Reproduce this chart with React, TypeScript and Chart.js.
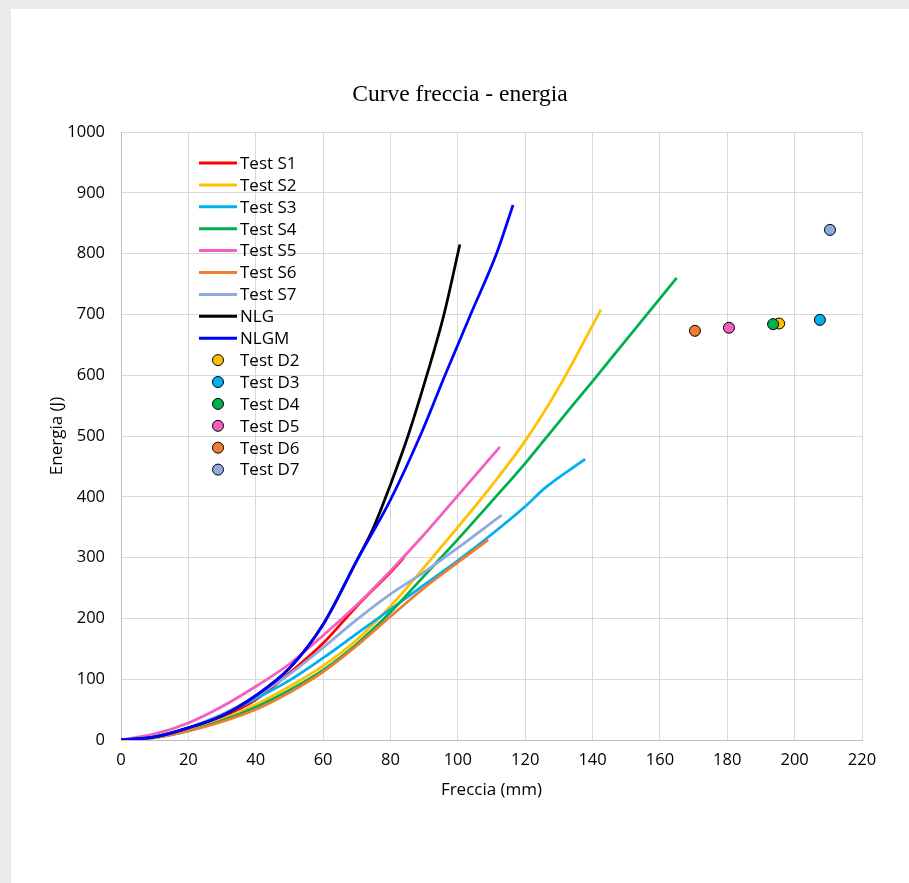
import React, { useEffect, useRef } from 'react';
import { Chart, registerables } from 'chart.js';

Chart.register(...registerables);

// ---- data ----
const s1X = [0, 10, 20, 30, 40, 50, 60, 70, 80, 84];
const s1Y = [0, 5, 18, 38, 66, 110, 159, 220, 276, 300];

const s2X = [0, 10, 20, 30, 40, 50, 60, 70, 80, 90, 100, 110, 120, 130, 142.5];
const s2Y = [0, 4, 16, 34, 58, 88, 122, 165, 220, 284, 350, 418, 492, 580, 708];

const s3X = [0, 10, 20, 30, 40, 50, 60, 70, 80, 90, 100, 110, 120, 126, 137.8];
const s3Y = [0, 5, 20, 42, 68, 98, 135, 175, 215, 255, 295, 338, 384, 415, 462];

const s4X = [0, 10, 20, 30, 40, 50, 60, 70, 80, 90, 100, 110, 120, 130, 140, 150, 165];
const s4Y = [0, 4, 15, 32, 54, 82, 115, 158, 210, 270, 330, 392, 455, 523, 590, 658, 760];

const s5X = [0, 10, 20, 30, 40, 50, 60, 70, 80, 90, 100, 112.5];
const s5Y = [0, 10, 28, 55, 88, 125, 172, 222, 278, 338, 402, 482];

const s6X = [0, 10, 20, 30, 40, 50, 60, 70, 80, 90, 100, 109];
const s6Y = [0, 4, 15, 30, 50, 78, 112, 155, 203, 250, 292, 329];

const s7X = [0, 10, 20, 30, 40, 50, 60, 70, 80, 90, 100, 113];
const s7Y = [0, 6, 20, 42, 72, 108, 152, 198, 240, 276, 316, 370];

const nlgX = [0, 10, 20, 30, 40, 50, 60, 70, 75, 80, 85.2, 90.8, 95.9, 100.6];
const nlgY = [0, 5, 20, 40, 73, 118, 190, 295, 350, 420, 500, 600, 700, 815];

const nlgmX = [0, 10, 20, 30, 40, 50, 60, 70, 80, 88.8, 96.2, 103.8, 111.5, 116.4];
const nlgmY = [0, 5, 20, 40, 73, 118, 190, 295, 395, 500, 600, 700, 800, 880];

const dLabels = ['Test D2', 'Test D3', 'Test D4', 'Test D5', 'Test D6', 'Test D7'];
const dX = [195.4, 207.5, 193.6, 180.5, 170.4, 210.5];
const dY = [685, 691, 684, 678, 673, 839];
const dColors = ['#FFC000', '#00B0F0', '#00B050', '#F55DBE', '#ED7D31', '#8FAADC'];

const lineLabels = ['Test S1', 'Test S2', 'Test S3', 'Test S4', 'Test S5', 'Test S6', 'Test S7', 'NLG', 'NLGM'];
const lineXs = [s1X, s2X, s3X, s4X, s5X, s6X, s7X, nlgX, nlgmX];
const lineYs = [s1Y, s2Y, s3Y, s4Y, s5Y, s6Y, s7Y, nlgY, nlgmY];
const lineColors = ['#FF0000', '#FFC000', '#00B0F0', '#00B050', '#F55DBE', '#ED7D31', '#8FAADC', '#000000', '#0000FF'];

const xTickStep = 20;
const yTickStep = 100;

const FONT = '"Open Sans", "Noto Sans", sans-serif';

const legendPlugin = {
  id: 'insideLegend',
  afterDatasetsDraw(chart: any) {
    const { ctx, chartArea } = chart;
    const ds = chart.data.datasets;
    ctx.save();
    ctx.font = `17px ${FONT}`;
    ctx.textBaseline = 'middle';
    ctx.textAlign = 'left';
    const x0 = chartArea.left + 78;
    const x1 = chartArea.left + 116;
    const tx = chartArea.left + 119;
    ds.forEach((d: any, i: number) => {
      const y = chartArea.top + 31 + i * 21.9;
      if (d.showLine) {
        ctx.strokeStyle = d.borderColor;
        ctx.lineWidth = 3;
        ctx.beginPath();
        ctx.moveTo(x0, y);
        ctx.lineTo(x1, y);
        ctx.stroke();
      } else {
        ctx.fillStyle = d.backgroundColor;
        ctx.strokeStyle = '#000';
        ctx.lineWidth = 1;
        ctx.beginPath();
        ctx.arc((x0 + x1) / 2, y, 5.5, 0, Math.PI * 2);
        ctx.fill();
        ctx.stroke();
      }
      ctx.fillStyle = '#000';
      ctx.fillText(d.label, tx, y + 1);
    });
    ctx.restore();
  },
};

export default function App() {
  const ref = useRef<HTMLCanvasElement>(null);

  useEffect(() => {
    const total = lineLabels.length + dLabels.length;
    const datasets: any[] = [];
    lineLabels.forEach((label, i) => {
      datasets.push({
        label,
        data: lineXs[i].map((x, k) => ({ x, y: lineYs[i][k] })),
        showLine: true,
        borderColor: lineColors[i],
        backgroundColor: lineColors[i],
        borderWidth: 2.75,
        pointRadius: 0,
        cubicInterpolationMode: 'monotone',
        fill: false,
        order: total - datasets.length,
      });
    });
    dLabels.forEach((label, i) => {
      datasets.push({
        label,
        data: [{ x: dX[i], y: dY[i] }],
        showLine: false,
        backgroundColor: dColors[i],
        borderColor: '#000',
        pointBackgroundColor: dColors[i],
        pointBorderColor: '#000',
        pointBorderWidth: 1,
        pointRadius: 5.5,
        order: total - datasets.length,
      });
    });

    const tickFont = { family: FONT, size: 16.5 };
    const titleFont = { family: FONT, size: 17 };
    const chart = new Chart(ref.current!, {
      type: 'scatter',
      data: { datasets },
      options: {
        animation: false,
        responsive: false,
        events: [],
        layout: { padding: 0 },
        plugins: {
          legend: { display: false },
          tooltip: { enabled: false },
          title: {
            display: true,
            text: 'Curve freccia - energia',
            color: '#000',
            font: { family: '"Liberation Serif", "Times New Roman", serif', size: 23.5, weight: 'normal' },
            padding: { top: 72, bottom: 22.8 },
          },
        },
        scales: {
          x: {
            type: 'linear',
            min: 0,
            max: 220,
            ticks: { stepSize: xTickStep, color: '#000', font: tickFont, padding: 10 },
            grid: { color: '#d9d9d9', drawTicks: false },
            border: { color: '#bfbfbf' },
            title: {
              display: true,
              text: 'Freccia (mm)',
              color: '#000',
              font: titleFont,
              padding: { top: 0, bottom: 83 },
            },
            afterFit: (s: any) => {
              s.height = 143;
            },
          },
          y: {
            type: 'linear',
            min: 0,
            max: 1000,
            ticks: {
              stepSize: yTickStep,
              color: '#000',
              font: tickFont,
              padding: 16,
              callback: (v: any) => String(v),
            },
            grid: { color: '#d9d9d9', drawTicks: false },
            border: { color: '#bfbfbf' },
            title: {
              display: true,
              text: 'Energia (J)',
              color: '#000',
              font: titleFont,
              padding: { top: 36, bottom: 0 },
            },
            afterFit: (s: any) => {
              s.width = 110;
            },
          },
          yRightSpace: {
            type: 'linear',
            position: 'right',
            display: true,
            min: 0,
            max: 1000,
            ticks: { display: false },
            grid: { display: false, drawTicks: false },
            border: { display: false },
            afterFit: (s: any) => {
              s.width = 47;
            },
          },
        },
      } as any,
      plugins: [legendPlugin],
    });
    return () => chart.destroy();
  }, []);

  return (
    <div style={{ position: 'fixed', left: 0, top: 0, width: 909, height: 883, background: '#ebebeb', overflow: 'hidden' }}>
      <div style={{ position: 'absolute', left: 11, top: 9, width: 898, height: 874, background: '#ffffff' }}>
        <canvas ref={ref} width={898} height={874} style={{ display: 'block', width: 898, height: 874 }} />
      </div>
    </div>
  );
}
